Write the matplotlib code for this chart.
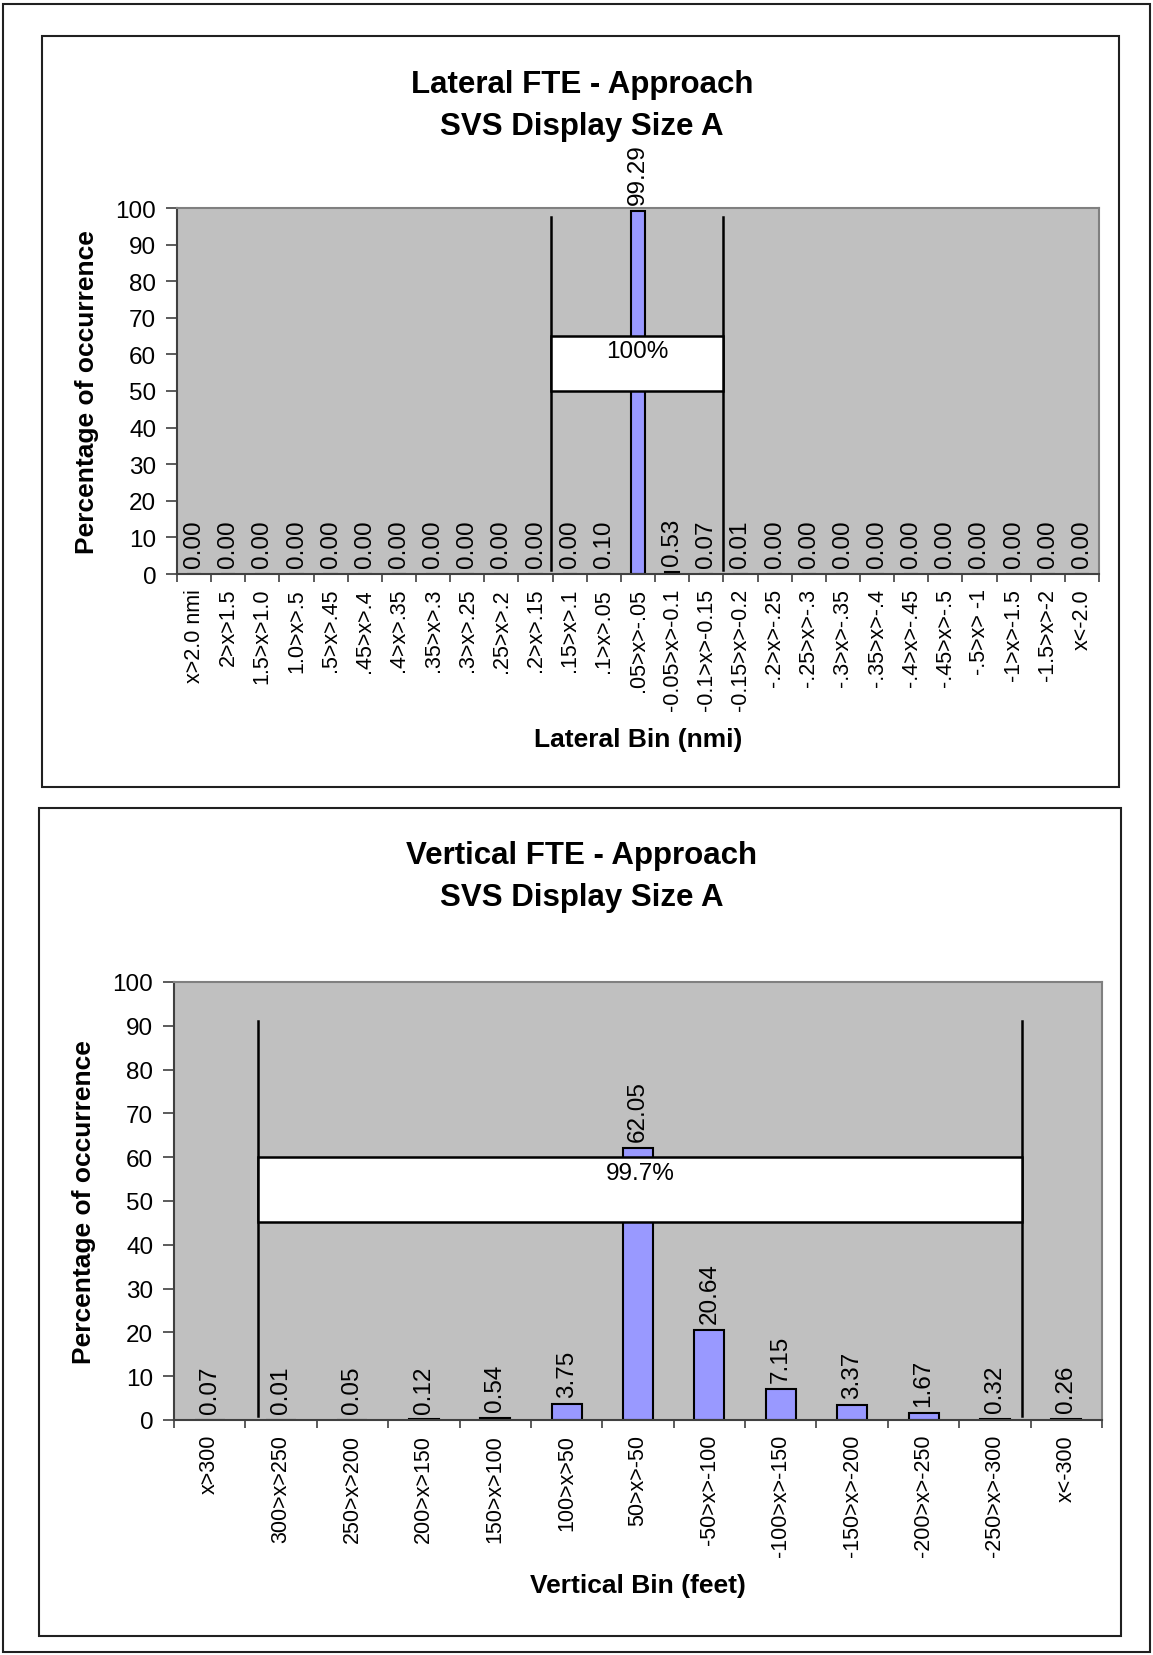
import matplotlib
matplotlib.use("Agg")
import matplotlib.pyplot as plt
from matplotlib.patches import Rectangle
from matplotlib.lines import Line2D
import numpy as np

plt.rcParams['font.family'] = ['Liberation Sans', 'DejaVu Sans']

# ---------------- data ----------------
lat_cats = ["x>2.0 nmi", "2>x>1.5", "1.5>x>1.0", "1.0>x>.5", ".5>x>.45", ".45>x>.4",
            ".4>x>.35", ".35>x>.3", ".3>x>.25", ".25>x>.2", ".2>x>.15", ".15>x>.1",
            ".1>x>.05", ".05>x>-.05", "-0.05>x>-0.1", "-0.1>x>-0.15", "-0.15>x>-0.2",
            "-.2>x>-.25", "-.25>x>-.3", "-.3>x>-.35", "-.35>x>-.4", "-.4>x>-.45",
            "-.45>x>-.5", "-.5>x> -1", "-1>x>-1.5", "-1.5>x>-2", "x<-2.0"]
lat_vals = [0.00, 0.00, 0.00, 0.00, 0.00, 0.00, 0.00, 0.00, 0.00, 0.00, 0.00, 0.00,
            0.10, 99.29, 0.53, 0.07, 0.01, 0.00, 0.00, 0.00, 0.00, 0.00, 0.00, 0.00,
            0.00, 0.00, 0.00]
lat_title = ["Lateral FTE - Approach", "SVS Display Size A"]
lat_xlabel = "Lateral Bin (nmi)"
lat_box_text = "100%"
lat_bracket = (10.45, 15.49)      # category positions of the bracket lines
lat_box_y = (50, 65)
lat_line_top = 97.5

ver_cats = ["x>300", "300>x>250", "250>x>200", "200>x>150", "150>x>100", "100>x>50",
            "50>x>-50", "-50>x>-100", "-100>x>-150", "-150>x>-200", "-200>x>-250",
            "-250>x>-300", "x<-300"]
ver_vals = [0.07, 0.01, 0.05, 0.12, 0.54, 3.75, 62.05, 20.64, 7.15, 3.37, 1.67, 0.32, 0.26]
ver_title = ["Vertical FTE - Approach", "SVS Display Size A"]
ver_xlabel = "Vertical Bin (feet)"
ver_box_text = "99.7%"
ver_bracket = (0.68, 11.38)
ver_box_y = (45.2, 60)
ver_line_top = 91

ylabel = "Percentage of occurrence"
yticks = [0, 10, 20, 30, 40, 50, 60, 70, 80, 90, 100]

# ---------------- layout ----------------
W, H = 1153, 1656
fig = plt.figure(figsize=(W / 100, H / 100), dpi=100)
fig.patch.set_facecolor('white')

def fx(x):
    return x / W

def fy(y):
    return 1 - y / H

def frame(x0, y0, x1, y1, lw=1.5, color='#202020'):
    fig.patches.append(Rectangle((fx(x0), fy(y1)), fx(x1) - fx(x0), fy(y0) - fy(y1),
                                 transform=fig.transFigure, fill=False, lw=lw,
                                 edgecolor=color, zorder=0))

# outer border and chart frames
frame(3, 5, 1150, 1653, lw=1.5)
frame(42, 37, 1119, 788)
frame(39, 809, 1121, 1637)

FS = 17.5
XFS = 15.5
BAR = '#9999FF'
BG = '#C0C0C0'


def make_chart(ax_px, cats, vals, title, title_ys, xlabel, xlabel_y, ylabel_x,
               bracket, box_y, line_top, box_text):
    x0, y0, x1, y1 = ax_px
    ax = fig.add_axes([fx(x0), fy(y1), fx(x1) - fx(x0), fy(y0) - fy(y1)])
    n = len(cats)
    pos = np.arange(n)
    ax.set_facecolor(BG)
    ax.bar(pos, vals, width=0.42, color=BAR, edgecolor='black', linewidth=1.5, zorder=2)
    ax.set_xlim(-0.5, n - 0.5)
    ax.set_ylim(0, 100)
    ax.set_yticks(yticks)
    ax.set_yticklabels([str(t) for t in yticks], fontsize=FS)
    ax.tick_params(axis='y', length=8, width=1.2, color='#404040', pad=7)
    # category boundaries as major ticks, labels on minor ticks
    ax.set_xticks(np.arange(-0.5, n, 1.0))
    ax.set_xticklabels([])
    ax.tick_params(axis='x', which='major', length=6, width=1.2, color='#404040')
    ax.set_xticks(pos, minor=True)
    ax.set_xticklabels(cats, minor=True, rotation=90, fontsize=XFS)
    ax.tick_params(axis='x', which='minor', length=0, pad=10)
    for s in ['left', 'bottom']:
        ax.spines[s].set_color('#404040')
        ax.spines[s].set_linewidth(1.5)
    for s in ['top', 'right']:
        ax.spines[s].set_color('#808080')
        ax.spines[s].set_linewidth(1.5)
    # value labels
    for p, v in zip(pos, vals):
        ax.annotate(f"{v:.2f}", (p, v), xytext=(0, 5), textcoords='offset points',
                    rotation=90, ha='center', va='bottom', fontsize=FS,
                    annotation_clip=False, zorder=5)
    # bracket lines and box
    bl, br = bracket
    for bx in (bl, br):
        ax.add_line(Line2D([bx, bx], [1, line_top], color='black', lw=1.8, zorder=3))
    ax.add_patch(Rectangle((bl, box_y[0]), br - bl, box_y[1] - box_y[0],
                           facecolor='white', edgecolor='black', lw=1.8, zorder=4))
    ax.text((bl + br) / 2, box_y[1] - 1.2, box_text, ha='center', va='top',
            fontsize=FS, zorder=6)
    # titles & labels
    cx = (x0 + x1) / 2
    for line, ty in zip(title, title_ys):
        fig.text(fx(582), fy(ty), line, ha='center', va='center', fontsize=22.5,
                 fontweight='bold')
    fig.text(fx(cx), fy(xlabel_y), xlabel, ha='center', va='center', fontsize=19,
             fontweight='bold')
    fig.text(fx(ylabel_x), fy((y0 + y1) / 2), ylabel, ha='center', va='center',
             rotation=90, fontsize=19, fontweight='bold')
    return ax


make_chart((177, 209, 1099, 575), lat_cats, lat_vals, lat_title, (85, 127), lat_xlabel,
           740, 87, lat_bracket, lat_box_y, lat_line_top, lat_box_text)
make_chart((174, 983, 1102, 1421), ver_cats, ver_vals, ver_title, (856, 898), ver_xlabel,
           1586, 84, ver_bracket, ver_box_y, ver_line_top, ver_box_text)

fig.savefig("out.png", dpi=100)
